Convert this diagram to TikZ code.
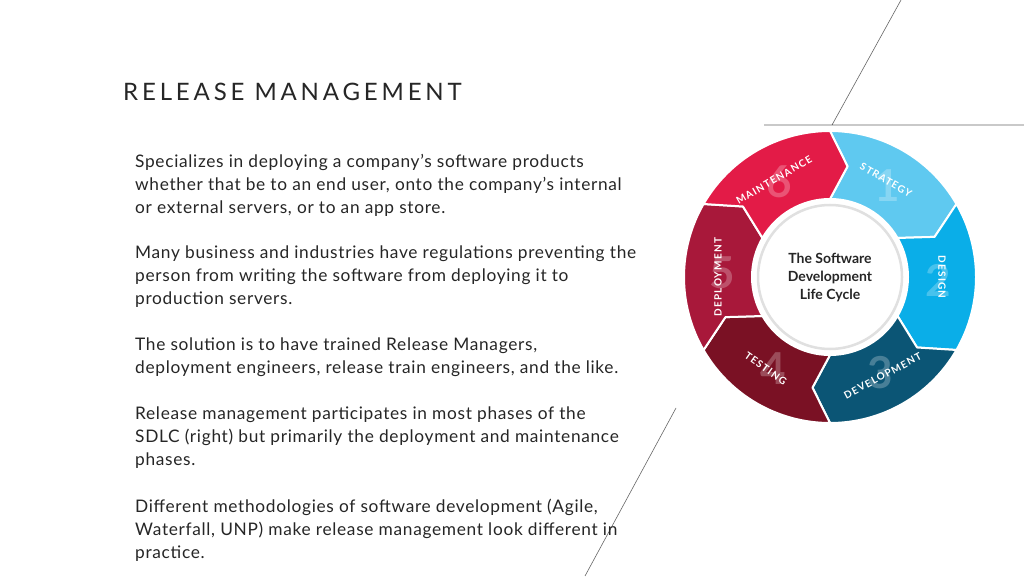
\documentclass[tikz,border=0pt]{standalone}
\usepackage{fontspec}
\setmainfont{Lato}
\newfontfamily\titlefont[LetterSpace=16]{Lato}
\newfontfamily\bodyfont[LetterSpace=4]{Lato}
\newfontfamily\lblfont[LetterSpace=12]{Lato}
\begin{document}
\begin{tikzpicture}[x=1pt,y=1pt,
  body/.style={anchor=north west,inner sep=0pt,align=left,font=\bodyfont\fontsize{17.3}{23}\selectfont,text=black!85},
  seg/.style={draw=white,line width=2pt,line join=round},
  lbl/.style={text=white,font=\lblfont\bfseries\fontsize{10}{10}\selectfont},
  num/.style={text=white,opacity=0.25,font=\bfseries\fontsize{44}{44}\selectfont}]
\useasboundingbox (0,0) rectangle (1024,576);
\fill[white] (0,0) rectangle (1024,576);
% decorative lines
\coordinate (l1a) at (832,451); \coordinate (l1b) at (901,576);
\coordinate (l2a) at (764,451); \coordinate (l2b) at (1024,451);
\coordinate (l3a) at (676,168); \coordinate (l3b) at (585,0);
\draw[black!60,line width=0.6pt] (l1a)--(l1b) (l2a)--(l2b) (l3a)--(l3b);
% title
\node[anchor=base west,inner sep=0pt,font=\titlefont\fontsize{24}{24}\selectfont,text=black!85] (title) at (123,475) {RELEASE MANAGEMENT};
% body
\node[body] (p1) at (135,422) {Specializes in deploying a company’s software products\\whether that be to an end user, onto the company’s internal\\or external servers, or to an app store.};
\node[body] (p2) at (135,330) {Many business and industries have regulations preventing the\\person from writing the software from deploying it to\\production servers.};
\node[body] (p3) at (135,238) {The solution is to have trained Release Managers,\\deployment engineers, release train engineers, and the like.};
\node[body] (p4) at (135,169) {Release management participates in most phases of the\\SDLC (right) but primarily the deployment and maintenance\\phases.};
\node[body] (p5) at (135,77) {Different methodologies of software development (Agile,\\Waterfall, UNP) make release management look different in\\practice.};
% cycle
\begin{scope}[shift={(830,299)}]
\def\Ro{146}\def\Ri{78}\def\Rm{112}\def\d{9}
\foreach \a/\col in {90/5FC9F0,30/0AAEE8,-30/0B5575,-90/7A1124,-150/A8183A,150/E31B47}{
  \definecolor{segc}{HTML}{\col}
  \pgfmathsetmacro\b{\a-60}
  \filldraw[seg,fill=segc] (\a:\Ro) arc[start angle=\a,end angle=\b,radius=\Ro] -- (\b-\d:\Rm) -- (\b:\Ri)
     arc[start angle=\b,end angle=\a,radius=\Ri] -- (\a-\d:\Rm) -- cycle;
}
\node[num] (n1) at (58:108) {1};
\node[num] (n2) at (-2:108) {2};
\node[num] (n3) at (-62:108) {3};
\node[num] (n4) at (-122:108) {4};
\node[num] (n5) at (178:108) {5};
\node[num] (n6) at (118:108) {6};
\node[lbl,rotate=-30] (s1) at (60:112) {STRATEGY};
\node[lbl,rotate=-90] (s2) at (0:112) {DESIGN};
\node[lbl,rotate=28] (s3) at (-62:112) {DEVELOPMENT};
\node[lbl,rotate=-35] (s4) at (-125:112) {TESTING};
\node[lbl,rotate=90] (s5) at (180:112) {DEPLOYMENT};
\node[lbl,rotate=30] (s6) at (120:112) {MAINTENANCE};
\filldraw[fill=white,draw=black!12,line width=2.5pt] (0,0) circle (72);
\node[align=center,font=\bfseries\fontsize{14}{18}\selectfont,text=black!85] (c) at (0,0) {The Software\\Development\\Life Cycle};
\end{scope}
\end{tikzpicture}
\end{document}
